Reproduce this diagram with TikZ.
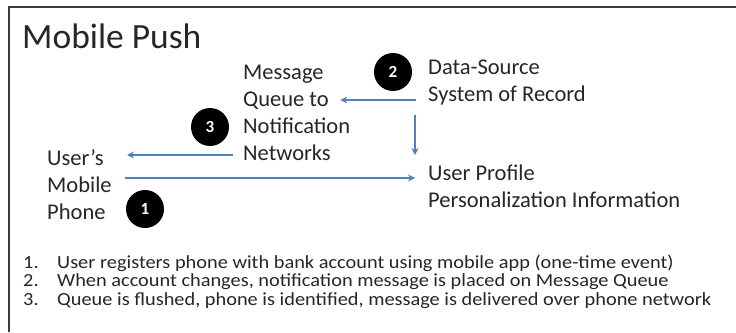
\documentclass[tikz,border=0pt]{standalone}
\usepackage{fontspec}
\setmainfont{Carlito}
\newfontfamily\legendfont[FakeStretch=1.1]{Carlito}
\usetikzlibrary{arrows.meta,positioning}
\definecolor{flowblue}{HTML}{4F81BD}
\definecolor{inkgray}{HTML}{262626}
\definecolor{framegray}{HTML}{3A3A3A}

\tikzset{
  labeltext/.style={inner sep=0pt, anchor=west, align=left, text=inkgray,
    font=\fontsize{22.5}{27}\selectfont},
  flow/.style={draw=flowblue, line width=1.4pt, -{Stealth[length=7pt,width=7pt]}},
  badge/.style={circle, fill=black, minimum size=38pt, inner sep=0pt, text=white,
    font=\fontsize{17}{17}\selectfont\bfseries},
  itemtext/.style={inner sep=0pt, anchor=base west, text=inkgray,
    font=\legendfont\fontsize{18.5}{18.5}\selectfont},
}

\begin{document}
\begin{tikzpicture}[x=1pt, y=-1pt]
    \useasboundingbox (0,0) rectangle (736,332);
    % Frame
    \draw[framegray, line width=2.5pt] (9,332) -- (9,7) -- (736,7);
    \node[anchor=base west, inner sep=0pt, text=inkgray, font=\fontsize{35.5}{35.5}\selectfont] (title) at (22,48) {Mobile Push};

    % Systems
    \node[labeltext] (msg) at (243,112.5) {Message\\Queue to\\Notification\\Networks};
    \node[labeltext] (dsrc) at (428,83) {Data-Source\\System of Record};
    \node[labeltext] (profile) at (428,186) {User Profile\\Personalization Information};
    \node[labeltext] (phone) at (47,185) {User’s\\Mobile\\Phone};

    % Steps
    \node[badge] (b1) at (145,209) {1};
    \node[badge] (b2) at (393,72) {2};
    \node[badge] (b3) at (210,127) {3};

    % Flows
    \draw[flow] ([shift={(-12,17)}]dsrc.west) -- ([shift={(-10,-12.5)}]msg.east);
    \draw[flow] ([shift={(-13,32)}]dsrc.west) -- ([shift={(-13,-31)}]profile.west);
    \draw[flow] ([shift={(-10,42.5)}]msg.west) -- ([shift={(80,-30)}]phone.west);
    \draw[flow] ([shift={(78,-7)}]phone.west) -- ([shift={(-13,-8)}]profile.west);

    % Legend
    \foreach \txt [count=\i] in {{User registers phone with bank account using mobile app (one-time event)},
        {When account changes, notification message is placed on Message Queue},
        {Queue is flushed, phone is identified, message is delivered over phone network}} {
      \node[itemtext] (num\i) at (23,{268+(\i-1)*18.5}) {\i.};
      \node[itemtext] (item\i) at (57,{268+(\i-1)*18.5}) {\txt};
    }
\end{tikzpicture}
\end{document}
